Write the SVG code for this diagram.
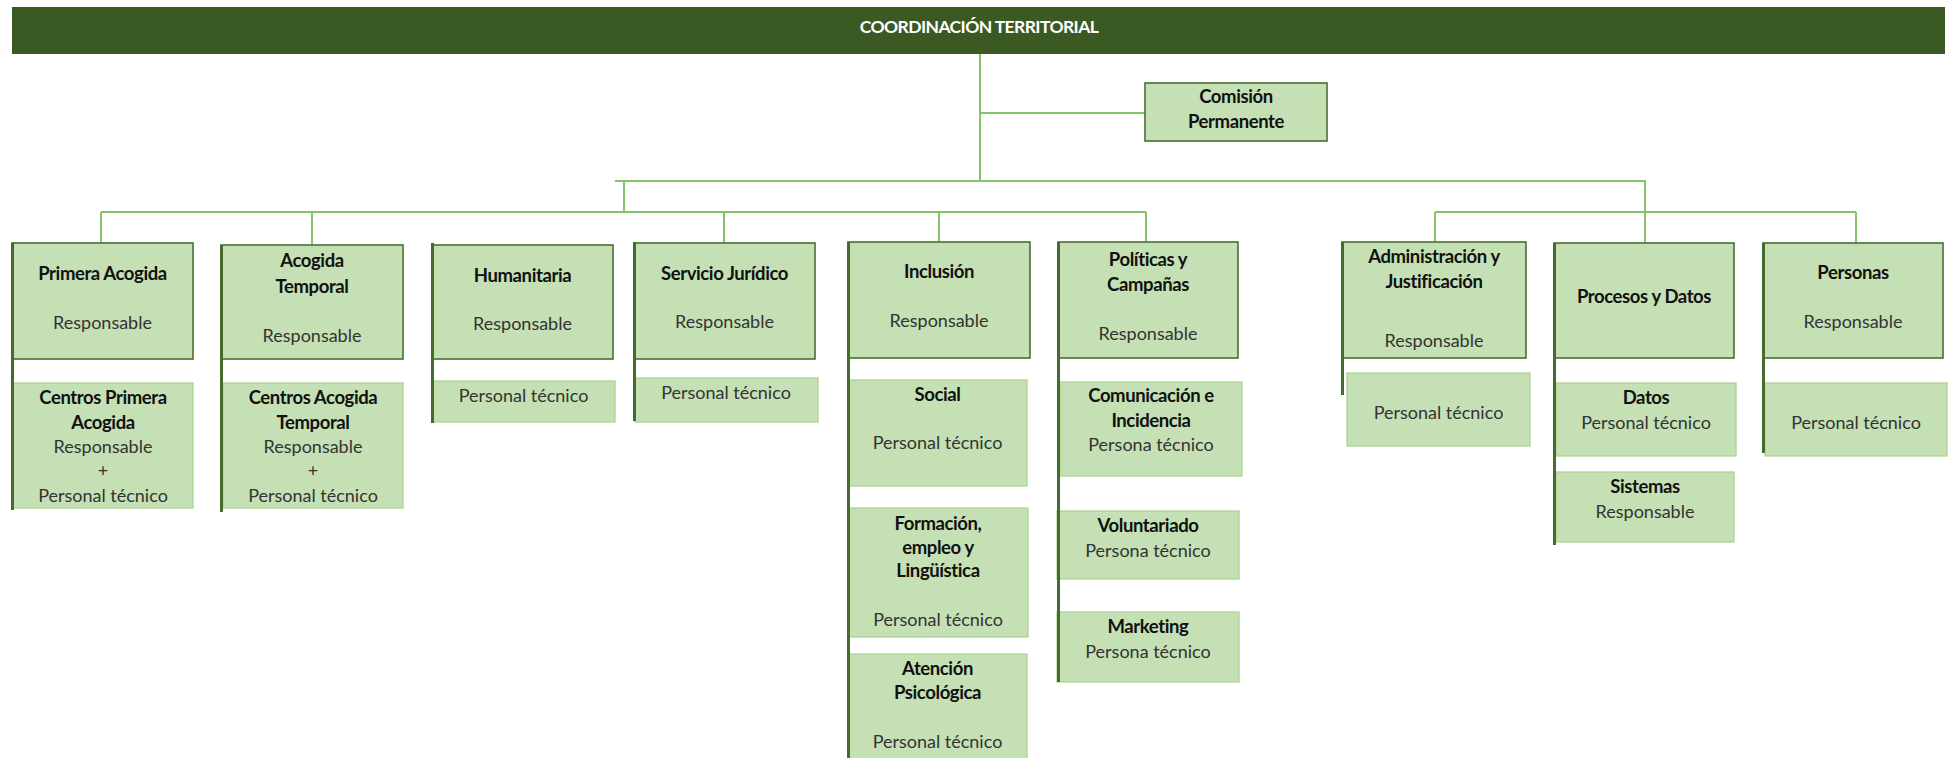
<svg xmlns="http://www.w3.org/2000/svg" width="1955" height="758" viewBox="0 0 1955 758">
<style>
  .hdr{fill:#3b5a23}
  .hdrt{font-family:Lato,"Liberation Sans",sans-serif;font-weight:bold;font-size:17.5px;fill:#ffffff;text-anchor:middle;letter-spacing:-0.6px}
  .top{fill:#c5e0b4;stroke:#4a6f30;stroke-width:1.6}
  .sub{fill:#c5e0b4;stroke:#a8d08d;stroke-width:1.2}
  .bar{stroke:#466b2d;stroke-width:3;fill:none}
  .con{stroke:#86c26b;stroke-width:2;fill:none}
  .b{font-family:Lato,"Liberation Sans",sans-serif;font-weight:bold;font-size:18.5px;fill:#111;text-anchor:middle;letter-spacing:-0.4px}
  .r{font-family:Lato,"Liberation Sans",sans-serif;font-size:18px;fill:#333;text-anchor:middle}
</style>
<rect width="1955" height="758" fill="#ffffff"/>
<g id="header">
  <rect class="hdr" x="12" y="7" width="1933" height="47"/>
  <text class="hdrt" x="979" y="33">COORDINACIÓN TERRITORIAL</text>
</g>
<g id="connectors">
  <path class="con" d="M980 54 V181"/>
  <path class="con" d="M980 113 H1145"/>
  <path class="con" d="M615 181 H1645 V243"/>
  <path class="con" d="M624 181 V212"/>
  <path class="con" d="M101 212 H1146"/>
  <path class="con" d="M101 212 V243 M312 212 V245 M724 212 V243 M939 212 V242 M1146 212 V242"/>
  <path class="con" d="M1435 212 H1856"/>
  <path class="con" d="M1435 212 V242 M1856 212 V243"/>
</g>
<g id="comision">
  <rect class="top" x="1145" y="83" width="182" height="58"/>
  <text class="b" x="1236" y="103">Comisión</text>
  <text class="b" x="1236" y="128">Permanente</text>
</g>
<g id="primera-acogida">
  <rect class="top" x="12" y="243" width="181" height="116"/>
  <text class="b" x="102.5" y="280">Primera Acogida</text>
  <text class="r" x="102.5" y="329">Responsable</text>
  <rect class="sub" x="13" y="383" width="180" height="125"/>
  <text class="b" x="103" y="404">Centros Primera</text>
  <text class="b" x="103" y="429">Acogida</text>
  <text class="r" x="103" y="453">Responsable</text>
  <text class="r" x="103" y="477">+</text>
  <text class="r" x="103" y="502">Personal técnico</text>
  <path class="bar" d="M12.5 243 V510"/>
</g>
<g id="acogida-temporal">
  <rect class="top" x="221" y="245" width="182" height="114"/>
  <text class="b" x="312" y="267">Acogida</text>
  <text class="b" x="312" y="293">Temporal</text>
  <text class="r" x="312" y="342">Responsable</text>
  <rect class="sub" x="223" y="383" width="180" height="125"/>
  <text class="b" x="313" y="404">Centros Acogida</text>
  <text class="b" x="313" y="429">Temporal</text>
  <text class="r" x="313" y="453">Responsable</text>
  <text class="r" x="313" y="477">+</text>
  <text class="r" x="313" y="502">Personal técnico</text>
  <path class="bar" d="M221.5 245 V512"/>
</g>
<g id="humanitaria">
  <rect class="top" x="432" y="245" width="181" height="114"/>
  <text class="b" x="522.5" y="282">Humanitaria</text>
  <text class="r" x="522.5" y="330">Responsable</text>
  <rect class="sub" x="432" y="381" width="183" height="41"/>
  <text class="r" x="523.5" y="402">Personal técnico</text>
  <path class="bar" d="M432.5 243 V423"/>
</g>
<g id="servicio-juridico">
  <rect class="top" x="634" y="243" width="181" height="116"/>
  <text class="b" x="724.5" y="280">Servicio Jurídico</text>
  <text class="r" x="724.5" y="328">Responsable</text>
  <rect class="sub" x="635" y="378" width="183" height="44"/>
  <text class="r" x="726" y="399">Personal técnico</text>
  <path class="bar" d="M634.5 242 V421"/>
</g>
<g id="inclusion">
  <rect class="top" x="848" y="242" width="182" height="116"/>
  <text class="b" x="939" y="278">Inclusión</text>
  <text class="r" x="939" y="327">Responsable</text>
  <rect class="sub" x="848" y="380" width="179" height="106"/>
  <text class="b" x="937.5" y="401">Social</text>
  <text class="r" x="937.5" y="449">Personal técnico</text>
  <rect class="sub" x="848" y="508" width="180" height="129"/>
  <text class="b" x="938" y="530">Formación,</text>
  <text class="b" x="938" y="554">empleo y</text>
  <text class="b" x="938" y="577">Lingüística</text>
  <text class="r" x="938" y="626">Personal técnico</text>
  <rect class="sub" x="848" y="654" width="179" height="106"/>
  <text class="b" x="937.5" y="675">Atención</text>
  <text class="b" x="937.5" y="699">Psicológica</text>
  <text class="r" x="937.5" y="748">Personal técnico</text>
  <path class="bar" d="M848.5 242 V758"/>
</g>
<g id="politicas">
  <rect class="top" x="1058" y="242" width="180" height="116"/>
  <text class="b" x="1148" y="266">Políticas y</text>
  <text class="b" x="1148" y="291">Campañas</text>
  <text class="r" x="1148" y="340">Responsable</text>
  <rect class="sub" x="1060" y="382" width="182" height="94"/>
  <text class="b" x="1151" y="402">Comunicación e</text>
  <text class="b" x="1151" y="427">Incidencia</text>
  <text class="r" x="1151" y="451">Persona técnico</text>
  <rect class="sub" x="1057" y="511" width="182" height="68"/>
  <text class="b" x="1148" y="532">Voluntariado</text>
  <text class="r" x="1148" y="557">Persona técnico</text>
  <rect class="sub" x="1057" y="612" width="182" height="70"/>
  <text class="b" x="1148" y="633">Marketing</text>
  <text class="r" x="1148" y="658">Persona técnico</text>
  <path class="bar" d="M1058.5 242 V682"/>
</g>
<g id="administracion">
  <rect class="top" x="1342" y="242" width="184" height="116"/>
  <text class="b" x="1434" y="263">Administración y</text>
  <text class="b" x="1434" y="288">Justificación</text>
  <text class="r" x="1434" y="347">Responsable</text>
  <rect class="sub" x="1347" y="373" width="183" height="73"/>
  <text class="r" x="1438.5" y="419">Personal técnico</text>
  <path class="bar" d="M1342.5 242 V395"/>
</g>
<g id="procesos-datos">
  <rect class="top" x="1554" y="243" width="180" height="115"/>
  <text class="b" x="1644" y="303">Procesos y Datos</text>
  <rect class="sub" x="1556" y="383" width="180" height="73"/>
  <text class="b" x="1646" y="404">Datos</text>
  <text class="r" x="1646" y="429">Personal técnico</text>
  <rect class="sub" x="1556" y="472" width="178" height="70"/>
  <text class="b" x="1645" y="493">Sistemas</text>
  <text class="r" x="1645" y="518">Responsable</text>
  <path class="bar" d="M1554.5 243 V545"/>
</g>
<g id="personas">
  <rect class="top" x="1763" y="243" width="180" height="115"/>
  <text class="b" x="1853" y="279">Personas</text>
  <text class="r" x="1853" y="328">Responsable</text>
  <rect class="sub" x="1765" y="383" width="182" height="73"/>
  <text class="r" x="1856" y="429">Personal técnico</text>
  <path class="bar" d="M1763.5 243 V453"/>
</g>
</svg>
